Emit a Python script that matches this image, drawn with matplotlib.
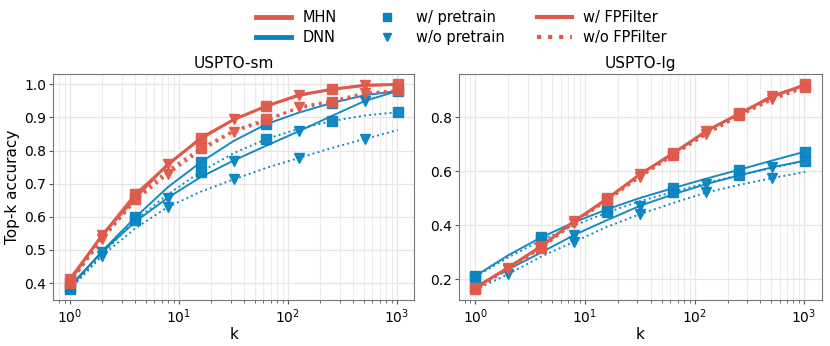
import matplotlib
matplotlib.use('Agg')
import matplotlib.pyplot as plt
from matplotlib.lines import Line2D

RED = '#e05a4b'
BLUE = '#0884c1'

k = [1, 2, 4, 8, 16, 32, 64, 128, 256, 512, 1024]

# USPTO-sm
sm_mhn_pre_fp = [0.411, 0.545, 0.668, 0.757, 0.839, 0.893, 0.935, 0.966, 0.986, 0.996, 1.0]
sm_mhn_nopre_fp = [0.405, 0.546, 0.656, 0.760, 0.835, 0.894, 0.934, 0.969, 0.984, 0.998, 0.999]
sm_mhn_pre_nofp = [0.400, 0.535, 0.655, 0.740, 0.807, 0.860, 0.895, 0.928, 0.947, 0.970, 0.982]
sm_mhn_nopre_nofp = [0.398, 0.533, 0.648, 0.730, 0.800, 0.857, 0.890, 0.932, 0.950, 0.974, 0.980]
sm_dnn_pre_fp = [0.385, 0.497, 0.598, 0.690, 0.765, 0.829, 0.880, 0.915, 0.944, 0.967, 0.980]
sm_dnn_nopre_fp = [0.390, 0.495, 0.585, 0.658, 0.720, 0.770, 0.815, 0.859, 0.905, 0.950, 0.980]
sm_dnn_pre_nofp = [0.383, 0.488, 0.590, 0.668, 0.736, 0.792, 0.835, 0.866, 0.889, 0.906, 0.916]
sm_dnn_nopre_nofp = [0.380, 0.483, 0.565, 0.630, 0.676, 0.713, 0.748, 0.778, 0.808, 0.835, 0.862]

# USPTO-lg
lg_mhn_pre_fp = [0.170, 0.245, 0.324, 0.415, 0.500, 0.590, 0.668, 0.748, 0.815, 0.875, 0.922]
lg_mhn_nopre_fp = [0.168, 0.244, 0.322, 0.417, 0.498, 0.590, 0.666, 0.750, 0.812, 0.880, 0.918]
lg_mhn_pre_nofp = [0.165, 0.240, 0.318, 0.410, 0.495, 0.582, 0.662, 0.738, 0.808, 0.865, 0.912]
lg_mhn_nopre_nofp = [0.165, 0.238, 0.318, 0.410, 0.493, 0.580, 0.660, 0.738, 0.805, 0.868, 0.910]
lg_dnn_pre_fp = [0.213, 0.290, 0.356, 0.412, 0.460, 0.502, 0.538, 0.573, 0.606, 0.640, 0.673]
lg_dnn_nopre_fp = [0.175, 0.238, 0.300, 0.365, 0.420, 0.473, 0.515, 0.553, 0.585, 0.615, 0.640]
lg_dnn_pre_nofp = [0.210, 0.282, 0.345, 0.400, 0.448, 0.490, 0.524, 0.557, 0.586, 0.613, 0.638]
lg_dnn_nopre_nofp = [0.162, 0.220, 0.285, 0.340, 0.395, 0.442, 0.483, 0.522, 0.550, 0.575, 0.598]

panels = [
    ('USPTO-sm', {
        ('dnn', 'pre', 'fp'): sm_dnn_pre_fp, ('dnn', 'nopre', 'fp'): sm_dnn_nopre_fp,
        ('dnn', 'pre', 'nofp'): sm_dnn_pre_nofp, ('dnn', 'nopre', 'nofp'): sm_dnn_nopre_nofp,
        ('mhn', 'pre', 'fp'): sm_mhn_pre_fp, ('mhn', 'nopre', 'fp'): sm_mhn_nopre_fp,
        ('mhn', 'pre', 'nofp'): sm_mhn_pre_nofp, ('mhn', 'nopre', 'nofp'): sm_mhn_nopre_nofp,
    }),
    ('USPTO-lg', {
        ('dnn', 'pre', 'fp'): lg_dnn_pre_fp, ('dnn', 'nopre', 'fp'): lg_dnn_nopre_fp,
        ('dnn', 'pre', 'nofp'): lg_dnn_pre_nofp, ('dnn', 'nopre', 'nofp'): lg_dnn_nopre_nofp,
        ('mhn', 'pre', 'fp'): lg_mhn_pre_fp, ('mhn', 'nopre', 'fp'): lg_mhn_nopre_fp,
        ('mhn', 'pre', 'nofp'): lg_mhn_pre_nofp, ('mhn', 'nopre', 'nofp'): lg_mhn_nopre_nofp,
    }),
]

colors = {'mhn': RED, 'dnn': BLUE}
markers = {'pre': ('s', slice(0, None, 2)), 'nopre': ('v', slice(1, None, 2))}
styles = {'fp': '-', 'nofp': ':'}
widths = {'mhn': 2.0, 'dnn': 1.4}

fig = plt.figure(figsize=(8.3, 3.46), dpi=100)
axes = [fig.add_axes([0.064, 0.133, 0.435, 0.653]),
        fig.add_axes([0.553, 0.133, 0.437, 0.653])]

for ax, (title, series) in zip(axes, panels):
    for (model, pre, fp), vals in series.items():
        m, every = markers[pre]
        ax.plot(k, vals, color=colors[model], ls=styles[fp], lw=widths[model],
                marker=m, markevery=every, markersize=6.5, alpha=0.95)
    ax.set_xscale('log')
    ax.set_title(title, fontsize=11, pad=4)
    ax.set_xlabel('k', fontsize=11, labelpad=1)
    ax.grid(True, which='major', color='#e6e6e6', lw=0.9)
    ax.grid(True, which='minor', axis='x', color='#ececec', lw=0.8)
    ax.set_axisbelow(True)
    for sp in ax.spines.values():
        sp.set_color('#777777')
    ax.tick_params(which='major', length=3, pad=2, labelsize=10,
                   colors='#555555', labelcolor='black')
    ax.tick_params(which='minor', length=2, colors='#555555')

axes[0].set_ylabel('Top-k accuracy', fontsize=11, labelpad=3)
axes[0].set_yticks([0.4, 0.5, 0.6, 0.7, 0.8, 0.9, 1.0])
axes[1].set_yticks([0.2, 0.4, 0.6, 0.8])

handles = [
    Line2D([], [], color=RED, lw=3.5),
    Line2D([], [], color=BLUE, lw=3.5),
    Line2D([], [], color=BLUE, ls='none', marker='s', markersize=6),
    Line2D([], [], color=BLUE, ls='none', marker='v', markersize=6),
    Line2D([], [], color=RED, lw=3, ls='-'),
    Line2D([], [], color=RED, lw=3, ls=':'),
]
labels = ['MHN', 'DNN', 'w/ pretrain', 'w/o pretrain', 'w/ FPFilter', 'w/o FPFilter']
fig.legend(handles, labels, ncol=3, loc='center', bbox_to_anchor=(0.556, 0.92),
           frameon=False, fontsize=10.5, handlelength=2.4, columnspacing=2.2,
           labelspacing=0.35, handletextpad=0.8)

fig.savefig('out.png', dpi=100)
